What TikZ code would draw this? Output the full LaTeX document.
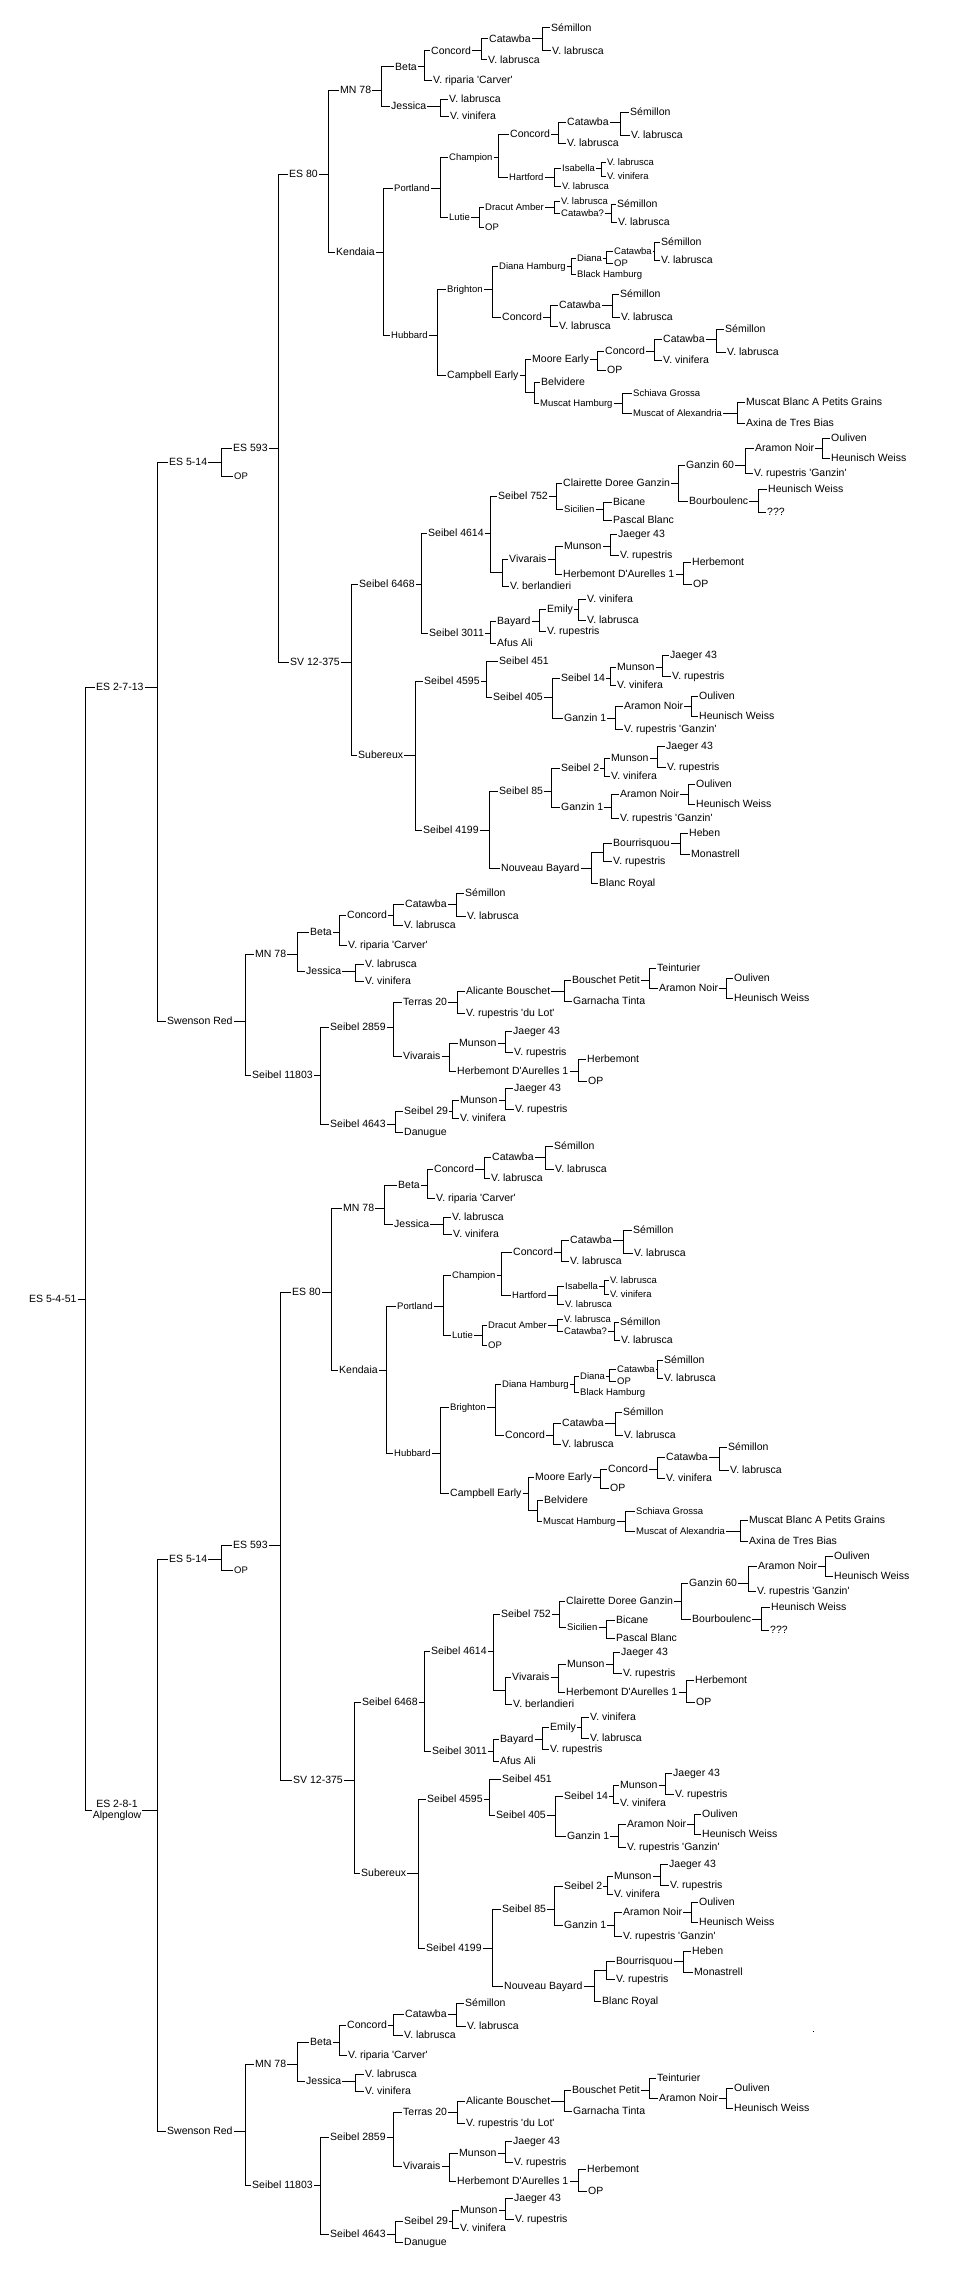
\documentclass[tikz,border=0pt]{standalone}
\usepackage{fontspec}
\setmainfont{Liberation Sans}

% bar from a parent to its children
\newcommand{\fork}[3]{%
  \coordinate (#1-v) at (#1.east -| #2,0);
  \draw[link] (#1.east) -- (#1-v);
  \foreach \c in {#3} {\draw[link] (#1-v) |- (\c.west);}
}

% ES 80 branch
\newcommand{\esEighty}{%
  \node[cv]  (es80)   at (288,174) {ES 80};
  \node[cv]  (mn78)   at (339,90)  {MN 78};
  \node[cv]  (beta)   at (394,67)  {Beta};
  \node[cv]  (conc)   at (430,51)  {Concord};
  \node[cv]  (cat)    at (488,39)  {Catawba};
  \node[cv]  (sem)    at (550,28)  {Sémillon};
  \node[cv]  (lab2)   at (551,51)  {V. labrusca};
  \node[cv]  (lab1)   at (487,60)  {V. labrusca};
  \node[cv]  (carv)   at (432,80)  {V. riparia \textquotesingle Carver\textquotesingle};
  \node[cv]  (jess)   at (390,106) {Jessica};
  \node[cv]  (jlab)   at (448,99)  {V. labrusca};
  \node[cv]  (jvin)   at (449,116) {V. vinifera};
  \fork{mn78}{381}{beta,jess}
  \fork{beta}{424}{conc,carv}
  \fork{conc}{481}{cat,lab1}
  \fork{cat}{542}{sem,lab2}
  \fork{jess}{440}{jlab,jvin}

  \node[cv]  (kend)   at (335,252) {Kendaia};
  \node[cvs] (port)   at (393,188) {Portland};
  \node[cvs] (champ)  at (448,157) {Champion};
  \node[cv]  (chc)    at (509,134) {Concord};
  \node[cv]  (chcat)  at (566,122) {Catawba};
  \node[cv]  (chsem)  at (629,112) {Sémillon};
  \node[cv]  (chlab2) at (630,135) {V. labrusca};
  \node[cv]  (chlab)  at (566,143) {V. labrusca};
  \node[cvs] (hart)   at (508,177) {Hartford};
  \node[cvs] (isa)    at (561,168) {Isabella};
  \node[cvs] (ilab)   at (606,162) {V. labrusca};
  \node[cvs] (ivin)   at (606,176) {V. vinifera};
  \node[cvs] (hlab)   at (561,186) {V. labrusca};
  \node[cvs] (lutie)  at (448,217) {Lutie};
  \node[cvs] (dracut) at (484,207) {Dracut Amber};
  \node[cvs] (dlab)   at (560,201) {V. labrusca};
  \node[cvs] (dcat)   at (560,213) {Catawba?};
  \node[cv]  (dsem)   at (616,204) {Sémillon};
  \node[cv]  (dlab2)  at (617,222) {V. labrusca};
  \node[cvs] (lop)    at (484,227) {OP};
  \fork{es80}{328}{mn78,kend}
  \fork{port}{440}{champ,lutie}
  \fork{champ}{498}{chc,hart}
  \fork{chc}{558}{chcat,chlab}
  \fork{chcat}{620}{chsem,chlab2}
  \fork{hart}{554}{isa,hlab}
  \fork{isa}{601}{ilab,ivin}
  \fork{lutie}{479}{dracut,lop}
  \fork{dracut}{554}{dlab,dcat}
  \fork{dcat}{611}{dsem,dlab2}

  \node[cvs] (hubb)   at (390,335) {Hubbard};
  \node[cvs] (bri)    at (446,289) {Brighton};
  \node[cvs] (dham)   at (498,266) {Diana Hamburg};
  \node[cvs] (diana)  at (576,258) {Diana};
  \node[cvs] (dicat)  at (613,251) {Catawba};
  \node[cv]  (disem)  at (660,242) {Sémillon};
  \node[cv]  (dilab)  at (660,260) {V. labrusca};
  \node[cvs] (diop)   at (613,263) {OP};
  \node[cvs] (bham)   at (576,274) {Black Hamburg};
  \node[cv]  (bconc)  at (501,317) {Concord};
  \node[cv]  (bcat)   at (558,305) {Catawba};
  \node[cv]  (bsem)   at (619,294) {Sémillon};
  \node[cv]  (blab2)  at (620,317) {V. labrusca};
  \node[cv]  (blab)   at (558,326) {V. labrusca};
  \node[cv]  (camp)   at (446,375) {Campbell Early};
  \node[cv]  (moore)  at (531,359) {Moore Early};
  \node[cv]  (mconc)  at (604,351) {Concord};
  \node[cv]  (mcat)   at (662,339) {Catawba};
  \node[cv]  (msem)   at (724,329) {Sémillon};
  \node[cv]  (mlab)   at (726,352) {V. labrusca};
  \node[cv]  (mvin)   at (662,360) {V. vinifera};
  \node[cv]  (mop)    at (606,370) {OP};
  \node[jn]  (cej)    at (534,392) {};
  \node[cv]  (belv)   at (540,382) {Belvidere};
  \node[cvs] (mham)   at (539,403) {Muscat Hamburg};
  \node[cvs] (schia)  at (632,393) {Schiava Grossa};
  \node[cvs] (malex)  at (632,413) {Muscat of Alexandria};
  \node[cv]  (mblanc) at (745,402) {Muscat Blanc A Petits Grains};
  \node[cv]  (axina)  at (745,423) {Axina de Tres Bias};
  \fork{kend}{383}{port,hubb}
  \fork{hubb}{437}{bri,camp}
  \fork{bri}{492}{dham,bconc}
  \fork{dham}{571}{diana,bham}
  \fork{diana}{606}{dicat,diop}
  \fork{dicat}{654}{disem,dilab}
  \fork{bconc}{550}{bcat,blab}
  \fork{bcat}{612}{bsem,blab2}
  \fork{camp}{525}{moore,cej}
  \fork{moore}{597}{mconc,mop}
  \fork{mconc}{654}{mcat,mvin}
  \fork{mcat}{716}{msem,mlab}
  \fork{cej}{534}{belv,mham}
  \fork{mham}{622}{schia,malex}
  \fork{malex}{737}{mblanc,axina}
}

% SV 12-375 branch
\newcommand{\svTree}{%
  \node[cv]  (sv)     at (289,662) {SV 12-375};
  \node[cv]  (s6468)  at (358,584) {Seibel 6468};
  \node[cv]  (s4614)  at (427,533) {Seibel 4614};
  \node[cv]  (s752)   at (497,496) {Seibel 752};
  \node[cv]  (clair)  at (562,483) {Clairette Doree Ganzin};
  \node[cv]  (g60)    at (685,465) {Ganzin 60};
  \node[cv]  (aram)   at (754,448) {Aramon Noir};
  \node[cv]  (oul)    at (830,438) {Ouliven};
  \node[cv]  (heu)    at (830,458) {Heunisch Weiss};
  \node[cv]  (rupg)   at (753,473) {V. rupestris \textquotesingle Ganzin\textquotesingle};
  \node[cv]  (bourb)  at (688,501) {Bourboulenc};
  \node[cv]  (bheu)   at (767,489) {Heunisch Weiss};
  \node[cv]  (unk)    at (766,512) {???};
  \node[cvs] (sicil)  at (563,509) {Sicilien};
  \node[cv]  (bic)    at (612,502) {Bicane};
  \node[cv]  (pasc)   at (612,520) {Pascal Blanc};
  \node[jn]  (vj)     at (502,572) {};
  \node[cv]  (viv)    at (508,559) {Vivarais};
  \node[cv]  (mun)    at (563,546) {Munson};
  \node[cv]  (jae)    at (617,534) {Jaeger 43};
  \node[cv]  (rup)    at (619,555) {V. rupestris};
  \node[cv]  (herd)   at (562,574) {Herbemont D\textquotesingle Aurelles 1};
  \node[cv]  (herb)   at (691,562) {Herbemont};
  \node[cv]  (hop)    at (692,584) {OP};
  \node[cv]  (berl)   at (509,586) {V. berlandieri};
  \node[cv]  (s3011)  at (428,633) {Seibel 3011};
  \node[cv]  (bay)    at (496,621) {Bayard};
  \node[cv]  (emily)  at (546,609) {Emily};
  \node[cv]  (evin)   at (586,599) {V. vinifera};
  \node[cv]  (elab)   at (586,620) {V. labrusca};
  \node[cv]  (brup)   at (546,631) {V. rupestris};
  \node[cv]  (afus)   at (496,643) {Afus Ali};
  \fork{s6468}{421}{s4614,s3011}
  \fork{s4614}{490}{s752,vj}
  \fork{s752}{556}{clair,sicil}
  \fork{clair}{678}{g60,bourb}
  \fork{g60}{745}{aram,rupg}
  \fork{aram}{822}{oul,heu}
  \fork{bourb}{758}{bheu,unk}
  \fork{sicil}{603}{bic,pasc}
  \fork{vj}{502}{viv,berl}
  \fork{viv}{555}{mun,herd}
  \fork{mun}{610}{jae,rup}
  \fork{herd}{683}{herb,hop}
  \fork{s3011}{490}{bay,afus}
  \fork{bay}{539}{emily,brup}
  \fork{emily}{578}{evin,elab}

  \node[cv]  (suber)  at (357,755) {Subereux};
  \node[cv]  (s4595)  at (423,681) {Seibel 4595};
  \node[cv]  (s451)   at (498,661) {Seibel 451};
  \node[cv]  (s405)   at (492,697) {Seibel 405};
  \node[cv]  (s14)    at (560,678) {Seibel 14};
  \node[cv]  (mun2)   at (616,667) {Munson};
  \node[cv]  (jae2)   at (669,655) {Jaeger 43};
  \node[cv]  (rup2)   at (671,676) {V. rupestris};
  \node[cv]  (vin2)   at (616,685) {V. vinifera};
  \node[cv]  (gz1)    at (563,718) {Ganzin 1};
  \node[cv]  (aram2)  at (623,706) {Aramon Noir};
  \node[cv]  (oul2)   at (698,696) {Ouliven};
  \node[cv]  (heu2)   at (698,716) {Heunisch Weiss};
  \node[cv]  (rupg2)  at (623,729) {V. rupestris \textquotesingle Ganzin\textquotesingle};
  \node[cv]  (s4199)  at (422,830) {Seibel 4199};
  \node[cv]  (s85)    at (498,791) {Seibel 85};
  \node[cv]  (s2)     at (560,768) {Seibel 2};
  \node[cv]  (mun3)   at (610,758) {Munson};
  \node[cv]  (jae3)   at (665,746) {Jaeger 43};
  \node[cv]  (rup3)   at (666,767) {V. rupestris};
  \node[cv]  (vin3)   at (610,776) {V. vinifera};
  \node[cv]  (gz1b)   at (560,807) {Ganzin 1};
  \node[cv]  (aram3)  at (619,794) {Aramon Noir};
  \node[cv]  (oul3)   at (695,784) {Ouliven};
  \node[cv]  (heu3)   at (695,804) {Heunisch Weiss};
  \node[cv]  (rupg3)  at (619,818) {V. rupestris \textquotesingle Ganzin\textquotesingle};
  \node[cv]  (nbay)   at (500,868) {Nouveau Bayard};
  \node[jn]  (nbj)    at (603,852) {};
  \node[cv]  (bour)   at (612,843) {Bourrisquou};
  \node[cv]  (heben)  at (688,833) {Heben};
  \node[cv]  (mona)   at (690,854) {Monastrell};
  \node[cv]  (nrup)   at (612,861) {V. rupestris};
  \node[cv]  (blanc)  at (598,883) {Blanc Royal};
  \fork{sv}{351}{s6468,suber}
  \fork{suber}{415}{s4595,s4199}
  \fork{s4595}{486}{s451,s405}
  \fork{s405}{552}{s14,gz1}
  \fork{s14}{610}{mun2,vin2}
  \fork{mun2}{662}{jae2,rup2}
  \fork{gz1}{615}{aram2,rupg2}
  \fork{aram2}{691}{oul2,heu2}
  \fork{s4199}{489}{s85,nbay}
  \fork{s85}{551}{s2,gz1b}
  \fork{s2}{604}{mun3,vin3}
  \fork{mun3}{657}{jae3,rup3}
  \fork{gz1b}{611}{aram3,rupg3}
  \fork{aram3}{688}{oul3,heu3}
  \fork{nbay}{591}{nbj,blanc}
  \fork{nbj}{603}{bour,nrup}
  \fork{bour}{680}{heben,mona}
}

% Swenson Red branch
\newcommand{\swensonTree}{%
  \node[cv]  (swen)   at (166,1021) {Swenson Red};
  \node[cv]  (smn)    at (254,954)  {MN 78};
  \node[cv]  (sbeta)  at (309,932)  {Beta};
  \node[cv]  (sconc)  at (346,915)  {Concord};
  \node[cv]  (scat)   at (404,904)  {Catawba};
  \node[cv]  (ssem)   at (464,893)  {Sémillon};
  \node[cv]  (slab2)  at (466,916)  {V. labrusca};
  \node[cv]  (slab)   at (403,925)  {V. labrusca};
  \node[cv]  (scarv)  at (347,945)  {V. riparia \textquotesingle Carver\textquotesingle};
  \node[cv]  (sjess)  at (305,971)  {Jessica};
  \node[cv]  (sjlab)  at (364,964)  {V. labrusca};
  \node[cv]  (sjvin)  at (364,981)  {V. vinifera};
  \node[cv]  (s11803) at (251,1075) {Seibel 11803};
  \node[cv]  (s2859)  at (329,1027) {Seibel 2859};
  \node[cv]  (terras) at (402,1002) {Terras 20};
  \node[cv]  (alic)   at (465,991)  {Alicante Bouschet};
  \node[cv]  (bpet)   at (571,980)  {Bouschet Petit};
  \node[cv]  (tein)   at (656,968)  {Teinturier};
  \node[cv]  (saram)  at (658,988)  {Aramon Noir};
  \node[cv]  (soul)   at (733,978)  {Ouliven};
  \node[cv]  (sheu)   at (733,998)  {Heunisch Weiss};
  \node[cv]  (garn)   at (572,1001) {Garnacha Tinta};
  \node[cv]  (rdl)    at (465,1013) {V. rupestris \textquotesingle du Lot\textquotesingle};
  \node[cv]  (sviv)   at (402,1056) {Vivarais};
  \node[cv]  (smun)   at (458,1043) {Munson};
  \node[cv]  (sjae)   at (512,1031) {Jaeger 43};
  \node[cv]  (srup)   at (513,1052) {V. rupestris};
  \node[cv]  (sherd)  at (456,1071) {Herbemont D\textquotesingle Aurelles 1};
  \node[cv]  (sherb)  at (586,1059) {Herbemont};
  \node[cv]  (shop)   at (587,1081) {OP};
  \node[cv]  (s4643)  at (329,1124) {Seibel 4643};
  \node[cv]  (s29)    at (403,1111) {Seibel 29};
  \node[cv]  (smun2)  at (459,1100) {Munson};
  \node[cv]  (sjae2)  at (513,1088) {Jaeger 43};
  \node[cv]  (srup2)  at (514,1109) {V. rupestris};
  \node[cv]  (svin)   at (459,1118) {V. vinifera};
  \node[cv]  (danu)   at (403,1132) {Danugue};
  \fork{swen}{245}{smn,s11803}
  \fork{smn}{297}{sbeta,sjess}
  \fork{sbeta}{339}{sconc,scarv}
  \fork{sconc}{393}{scat,slab}
  \fork{scat}{456}{ssem,slab2}
  \fork{sjess}{355}{sjlab,sjvin}
  \fork{s11803}{320}{s2859,s4643}
  \fork{s2859}{393}{terras,sviv}
  \fork{terras}{457}{alic,rdl}
  \fork{alic}{564}{bpet,garn}
  \fork{bpet}{649}{tein,saram}
  \fork{saram}{726}{soul,sheu}
  \fork{sviv}{449}{smun,sherd}
  \fork{smun}{505}{sjae,srup}
  \fork{sherd}{578}{sherb,shop}
  \fork{s4643}{395}{s29,danu}
  \fork{s29}{452}{smun2,svin}
  \fork{smun2}{505}{sjae2,srup2}
}

\begin{document}
\begin{tikzpicture}
    [
        x=1pt, y=-1pt,
        cv/.style={anchor=west, inner xsep=1pt, inner ysep=0pt,
                   text height=7.5pt, text depth=0pt,
                   font=\fontsize{10.5}{12}\selectfont},
        cvs/.style={cv, text height=7pt, font=\fontsize{9.5}{11}\selectfont},
        jn/.style={inner sep=0pt, minimum size=0pt},
        link/.style={line width=1pt},
    ]
    \useasboundingbox (0,0) rectangle (960,2275);

    % root
    \node[cv]  (root)     at (28,1299)  {ES 5-4-51};
    \node[cv]  (es2713)   at (95,687)   {ES 2-7-13};
    \node[cv, align=center, anchor=center, text height=, text depth=]
               (es281)    at (117,1810) {ES 2-8-1\\[-1pt]Alpenglow};
    \fork{root}{85}{es2713,es281}

    % ES 2-7-13
    \node[cv]  (t-es514)  at (168,462)  {ES 5-14};
    \node[cv]  (t-es593)  at (232,448)  {ES 593};
    \node[cvs] (t-op)     at (233,476)  {OP};
    \begin{scope}[name prefix=t-]
        \esEighty
        \svTree
        \swensonTree
    \end{scope}
    \fork{es2713}{157}{t-es514,t-swen}
    \fork{t-es514}{221}{t-es593,t-op}
    \fork{t-es593}{278}{t-es80,t-sv}

    % ES 2-8-1
    \node[cv]  (b-es514)  at (168,1559) {ES 5-14};
    \node[cv]  (b-es593)  at (232,1545) {ES 593};
    \node[cvs] (b-op)     at (233,1570) {OP};
    \begin{scope}[name prefix=b-, shift={(3,1118)}]
        \esEighty
        \svTree
    \end{scope}
    \begin{scope}[name prefix=b-, shift={(0,1110)}]
        \swensonTree
    \end{scope}
    \fork{es281}{157}{b-es514,b-swen}
    \fork{b-es514}{221}{b-es593,b-op}
    \fork{b-es593}{280}{b-es80,b-sv}

    % stray dot
    \fill (813,2031) rectangle ++(1.2,1.2);

\end{tikzpicture}
\end{document}
